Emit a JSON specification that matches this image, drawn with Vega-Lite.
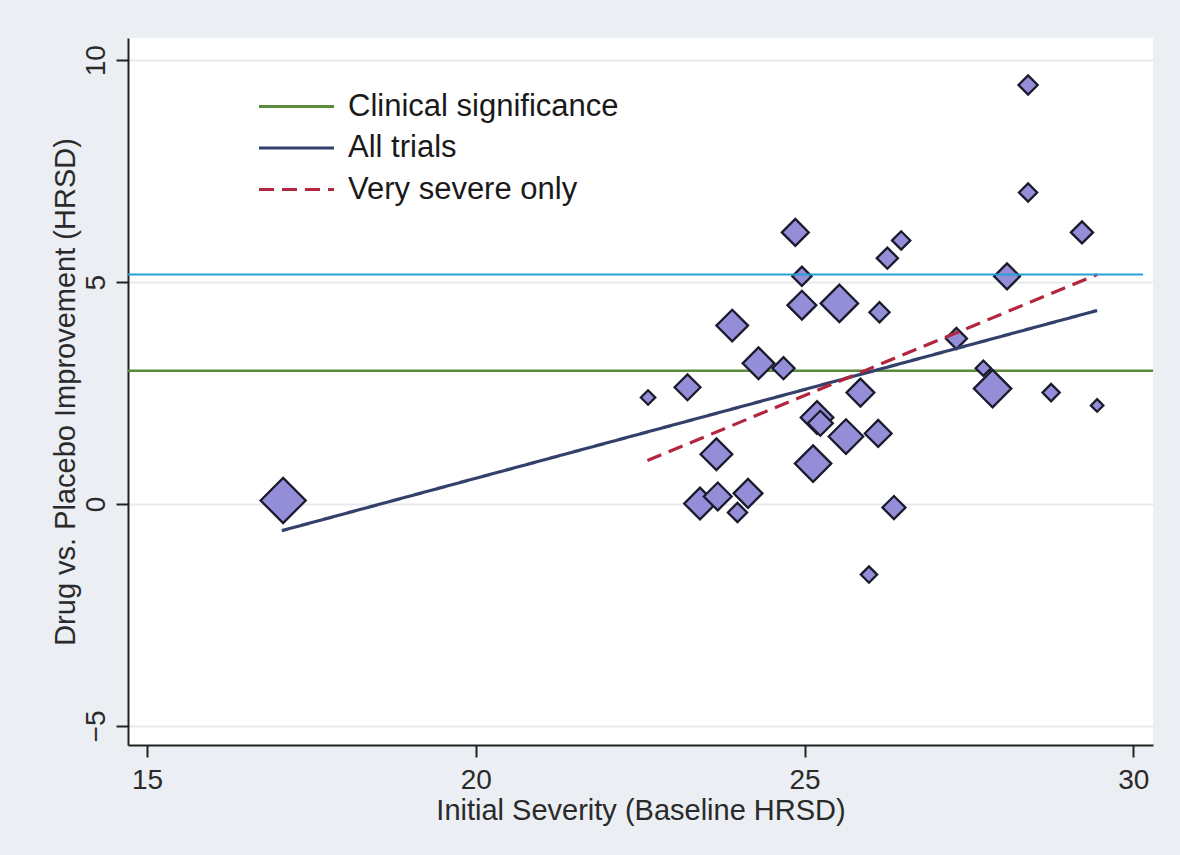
{
  "$schema": "https://vega.github.io/schema/vega-lite/v6.json",
  "width": 1025,
  "height": 707,
  "autosize": {"type": "none"},
  "padding": {"left": 128, "top": 38, "right": 27, "bottom": 110},
  "background": "#ebeef2",
  "datasets": {
    "trials": [
      {"x": 17.07, "y": 0.08, "weight": 47},
      {"x": 22.62, "y": 2.40, "weight": 15},
      {"x": 23.22, "y": 2.63, "weight": 27},
      {"x": 23.90, "y": 4.02, "weight": 33},
      {"x": 24.30, "y": 3.17, "weight": 33},
      {"x": 24.68, "y": 3.06, "weight": 23},
      {"x": 23.66, "y": 1.12, "weight": 33},
      {"x": 23.41, "y": 0.01, "weight": 33},
      {"x": 23.68, "y": 0.17, "weight": 29},
      {"x": 24.14, "y": 0.24, "weight": 30},
      {"x": 23.98, "y": -0.19, "weight": 20},
      {"x": 24.86, "y": 6.12, "weight": 28},
      {"x": 24.96, "y": 5.13, "weight": 20},
      {"x": 24.96, "y": 4.48, "weight": 30},
      {"x": 25.53, "y": 4.52, "weight": 39},
      {"x": 26.14, "y": 4.32, "weight": 21},
      {"x": 26.26, "y": 5.54, "weight": 22},
      {"x": 26.47, "y": 5.94, "weight": 19},
      {"x": 25.85, "y": 2.51, "weight": 29},
      {"x": 25.19, "y": 1.95, "weight": 34},
      {"x": 25.24, "y": 1.82, "weight": 26},
      {"x": 25.63, "y": 1.52, "weight": 36},
      {"x": 26.12, "y": 1.59, "weight": 28},
      {"x": 25.13, "y": 0.91, "weight": 38},
      {"x": 26.36, "y": -0.08, "weight": 24},
      {"x": 25.98, "y": -1.59, "weight": 17},
      {"x": 27.31, "y": 3.73, "weight": 22},
      {"x": 27.72, "y": 3.06, "weight": 16},
      {"x": 27.86, "y": 2.60, "weight": 39},
      {"x": 28.08, "y": 5.13, "weight": 27},
      {"x": 28.40, "y": 9.44, "weight": 20},
      {"x": 28.40, "y": 7.02, "weight": 19},
      {"x": 28.75, "y": 2.51, "weight": 18},
      {"x": 29.22, "y": 6.12, "weight": 23},
      {"x": 29.45, "y": 2.22, "weight": 13}
    ],
    "lines": [
      {"series": "Clinical significance", "x": 14.71, "y": 3.0},
      {"series": "Clinical significance", "x": 30.30, "y": 3.0},
      {"series": "All trials", "x": 17.05, "y": -0.60},
      {"series": "All trials", "x": 29.45, "y": 4.36},
      {"series": "Very severe only", "x": 22.61, "y": 0.98},
      {"series": "Very severe only", "x": 29.45, "y": 5.17}
    ],
    "ref": [
      {"x": 14.71, "x2": 30.15, "y": 5.17}
    ]
  },
  "layer": [
    {
      "data": {"name": "lines"},
      "transform": [{"filter": "datum.series === 'Clinical significance'"}],
      "mark": {"type": "line", "strokeWidth": 2.5},
      "encoding": {
        "x": {"field": "x", "type": "quantitative"},
        "y": {"field": "y", "type": "quantitative"},
        "detail": {"field": "series"},
        "color": {"field": "series", "type": "nominal"},
        "strokeDash": {"field": "series", "type": "nominal"}
      }
    },
    {
      "data": {"name": "trials"},
      "mark": {"type": "point", "shape": "diamond", "filled": true, "fill": "#948ed9", "stroke": "#1a1a2c", "strokeWidth": 2.3, "opacity": 1, "fillOpacity": 1},
      "encoding": {
        "x": {"field": "x", "type": "quantitative"},
        "y": {"field": "y", "type": "quantitative"},
        "size": {"field": "weight", "type": "quantitative", "scale": {"type": "pow", "exponent": 2, "domain": [0, 50], "range": [0, 2304]}, "legend": null}
      }
    },
    {
      "data": {"name": "lines"},
      "transform": [{"filter": "datum.series !== 'Clinical significance'"}],
      "mark": {"type": "line", "strokeWidth": 3.2},
      "encoding": {
        "x": {"field": "x", "type": "quantitative"},
        "y": {"field": "y", "type": "quantitative"},
        "detail": {"field": "series"},
        "color": {"field": "series", "type": "nominal"},
        "strokeDash": {"field": "series", "type": "nominal"}
      }
    },
    {
      "data": {"name": "ref"},
      "mark": {"type": "rule", "stroke": "#2a9fd4", "strokeWidth": 2},
      "encoding": {
        "x": {"field": "x", "type": "quantitative"},
        "x2": {"field": "x2"},
        "y": {"field": "y", "type": "quantitative"}
      }
    }
  ],
  "resolve": {"scale": {"color": "shared", "strokeDash": "shared"}},
  "encoding": {
    "x": {
      "field": "x", "type": "quantitative",
      "scale": {"domain": [14.71, 30.30], "nice": false, "zero": false},
      "axis": {"title": "Initial Severity (Baseline HRSD)", "values": [15, 20, 25, 30], "grid": false}
    },
    "y": {
      "field": "y", "type": "quantitative",
      "scale": {"domain": [-5.43, 10.50], "nice": false, "zero": false},
      "axis": {"title": "Drug vs. Placebo Improvement (HRSD)", "values": [-5, 0, 5, 10], "grid": true, "labelAngle": -90, "labelAlign": "center", "labelBaseline": "alphabetic", "labelPadding": 12}
    },
    "color": {
      "field": "series", "type": "nominal",
      "scale": {"domain": ["Clinical significance", "All trials", "Very severe only"], "range": ["#5a8a3a", "#34406c", "#b3263f"]},
      "legend": {"title": null, "orient": "none", "legendX": 153, "legendY": 53, "symbolType": "M-5,0L5,0", "symbolSize": 225, "symbolStrokeWidth": 3, "labelFontSize": 31, "labelOffset": 36, "rowPadding": 9.5, "padding": 0}
    },
    "strokeDash": {
      "field": "series", "type": "nominal",
      "scale": {"domain": ["Clinical significance", "All trials", "Very severe only"], "range": [[1, 0], [1, 0], [15, 8]]},
      "legend": {"title": null, "orient": "none", "legendX": 153, "legendY": 53, "symbolType": "M-5,0L5,0", "symbolSize": 225, "symbolStrokeWidth": 3, "labelFontSize": 31, "labelOffset": 36, "rowPadding": 9.5, "padding": 0}
    }
  },
  "config": {
    "font": "Liberation Sans",
    "view": {"stroke": null, "fill": "white"},
    "axis": {
      "domainColor": "#222222", "domainWidth": 2,
      "tickColor": "#222222", "tickWidth": 2, "tickSize": 12,
      "labelFontSize": 28, "labelColor": "#2a2a2a", "labelFont": "Liberation Sans",
      "titleFontSize": 29, "titleFontWeight": "normal", "titleColor": "#2a2a2a", "titleFont": "Liberation Sans",
      "gridColor": "#e8eaee", "gridWidth": 2
    },
    "axisX": {"labelPadding": 9, "titlePadding": 2},
    "axisY": {"titlePadding": 2},
    "legend": {"labelFont": "Liberation Sans", "labelColor": "#1a1a1a", "labelLimit": 0}
  }
}
